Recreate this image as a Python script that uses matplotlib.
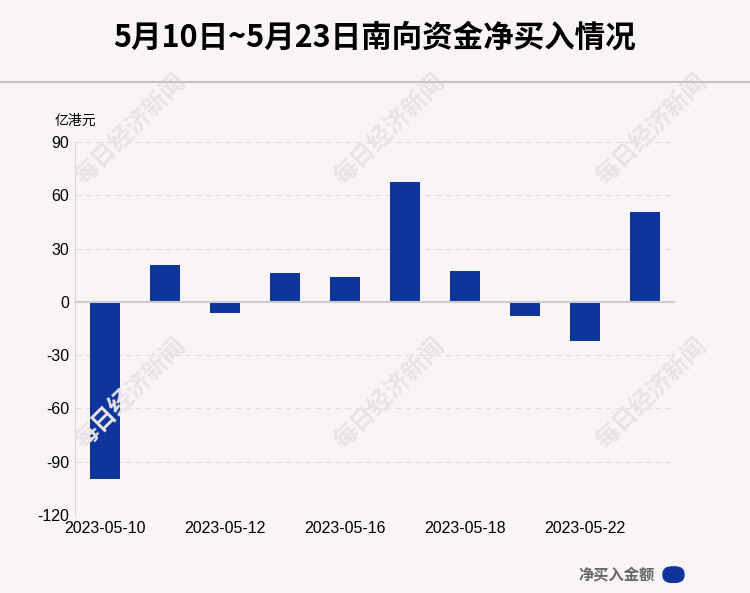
import matplotlib.pyplot as plt
from matplotlib.patches import FancyBboxPatch

# data
dates = ['2023-05-10', '2023-05-11', '2023-05-12', '2023-05-15', '2023-05-16',
         '2023-05-17', '2023-05-18', '2023-05-19', '2023-05-22', '2023-05-23']
net_buy = [-100.0, 20.8, -6.2, 16.3, 14.1, 67.5, 17.4, -7.9, -21.9, 50.6]
yticks = [90, 60, 30, 0, -30, -60, -90, -120]

title = '5月10日~5月23日南向资金净买入情况'
unit = '亿港元'
legend_label = '净买入金额'
watermark = '每日经济新闻'

bg = '#f9f5f6'
bar_color = '#0d359b'
fonts = ['Liberation Sans', 'Noto Sans CJK SC']
cjk = ['Noto Sans CJK SC', 'DejaVu Sans']

fig = plt.figure(figsize=(7.5, 5.93), dpi=100, facecolor=bg)

# watermarks
for fx in [0.175, 0.52, 0.87]:
    for fy in [0.78, 0.335]:
        fig.text(fx, fy, watermark, rotation=45, ha='center', va='center',
                 fontsize=17.5, fontweight='bold', color='#e8e4e5', family=cjk, zorder=0)

fig.text(0.5, 0.936, title, ha='center', va='center', fontsize=22,
         fontweight='bold', family=cjk)
fig.add_artist(plt.Line2D([0, 1], [0.862, 0.862], color='#c4c4c4', lw=1.5))

ax = fig.add_axes([0.1, 0.1315, 0.8, 0.629])
ax.set_facecolor('none')
x = list(range(len(dates)))
ax.bar(x, net_buy, width=0.5, color=bar_color, zorder=3)
ax.axhline(0, color='#cccccc', lw=1.5, zorder=4)

ax.set_xlim(-0.5, 9.5)
ax.set_ylim(-120, 90)
ax.set_yticks(yticks)
ax.set_yticklabels([str(v) for v in yticks], family=fonts, fontsize=11.5)
ax.set_xticks(x[::2])
ax.set_xticklabels(dates[::2], family=fonts, fontsize=11.5)
ax.tick_params(length=0, pad=4)
for v in yticks:
    if v not in (0, -120):
        ax.axhline(v, color='#dddddd', lw=0.8, ls=(0, (5, 4)), xmax=0.995, zorder=1)
for s in ['top', 'right', 'bottom']:
    ax.spines[s].set_visible(False)
ax.spines['left'].set_color('#d6d6d6')

fig.text(0.1, 0.797, unit, ha='center', va='center', fontsize=10, family=cjk)

fig.text(0.873, 0.032, legend_label, ha='right', va='center', fontsize=11,
         fontweight='bold', color='#666666', family=cjk)
fig.add_artist(FancyBboxPatch((0.884, 0.018), 0.028, 0.026,
                              boxstyle='round,pad=0,rounding_size=0.012',
                              transform=fig.transFigure, color=bar_color))

plt.savefig('out.png', dpi=100, facecolor=bg)
